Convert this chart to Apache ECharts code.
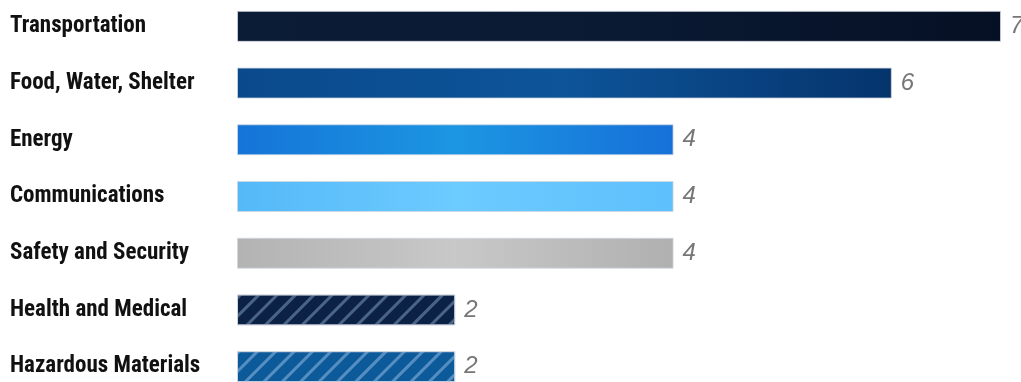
<!DOCTYPE html>
<html><head><meta charset="utf-8">
<script src="https://cdn.jsdelivr.net/npm/echarts@6/dist/echarts.min.js"></script>
<style>html,body{margin:0;padding:0;background:#fff}#c{width:1021px;height:382px}</style>
</head><body><div id="c"></div>
<script>
const categories = ["Transportation","Food, Water, Shelter","Energy","Communications","Safety and Security","Health and Medical","Hazardous Materials"];
const values = [7,6,4,4,4,2,2];

function grad(a,b,c){return new echarts.graphic.LinearGradient(0,0,1,0,[{offset:0,color:a},{offset:0.5,color:b},{offset:1,color:c}]);}
const hatch = (c)=>({symbol:'rect',symbolSize:1,dashArrayX:[1,0],dashArrayY:[3,10],rotation:-Math.PI/4,color:c});
const styles = [
  {color:grad('#0b1c36','#0a1a33','#051024')},
  {color:grad('#0a4a8c','#0d5499','#05346c')},
  {color:grad('#1574d8','#1c96e2','#1670d8')},
  {color:grad('#55b9f8','#6ccbff','#5ec0fc')},
  {color:grad('#b3b3b3','#c8c8c8','#b0b0b0')},
  {color:'#0b2146', decal:hatch('rgba(100,130,160,0.7)')},
  {color:'#0d5a9b', decal:hatch('rgba(110,160,205,0.75)')}
];
const data = values.map((v,i)=>({value:v,itemStyle:Object.assign({borderColor:'rgba(210,215,225,0.8)',borderWidth:1},styles[i])}));

const chart = echarts.init(document.getElementById('c'));
chart.setOption({
  animation:false,
  grid:{left:237,top:-2,width:764,height:397,outerBoundsMode:'none',containLabel:false},
  xAxis:{type:'value',min:0,max:7,show:false},
  yAxis:{type:'category',data:categories,inverse:true,
    axisLine:{show:false},axisTick:{show:false},
    axisLabel:{align:'left',margin:227,padding:[3,0,0,0],color:'#111',fontFamily:'Roboto Condensed',fontWeight:'bold',fontSize:23}},
  series:[{type:'bar',data:data,barWidth:31,
    label:{show:true,position:'right',distance:9,color:'#777',fontStyle:'italic',fontFamily:'Liberation Sans',fontSize:24}}]
});
</script></body></html>
